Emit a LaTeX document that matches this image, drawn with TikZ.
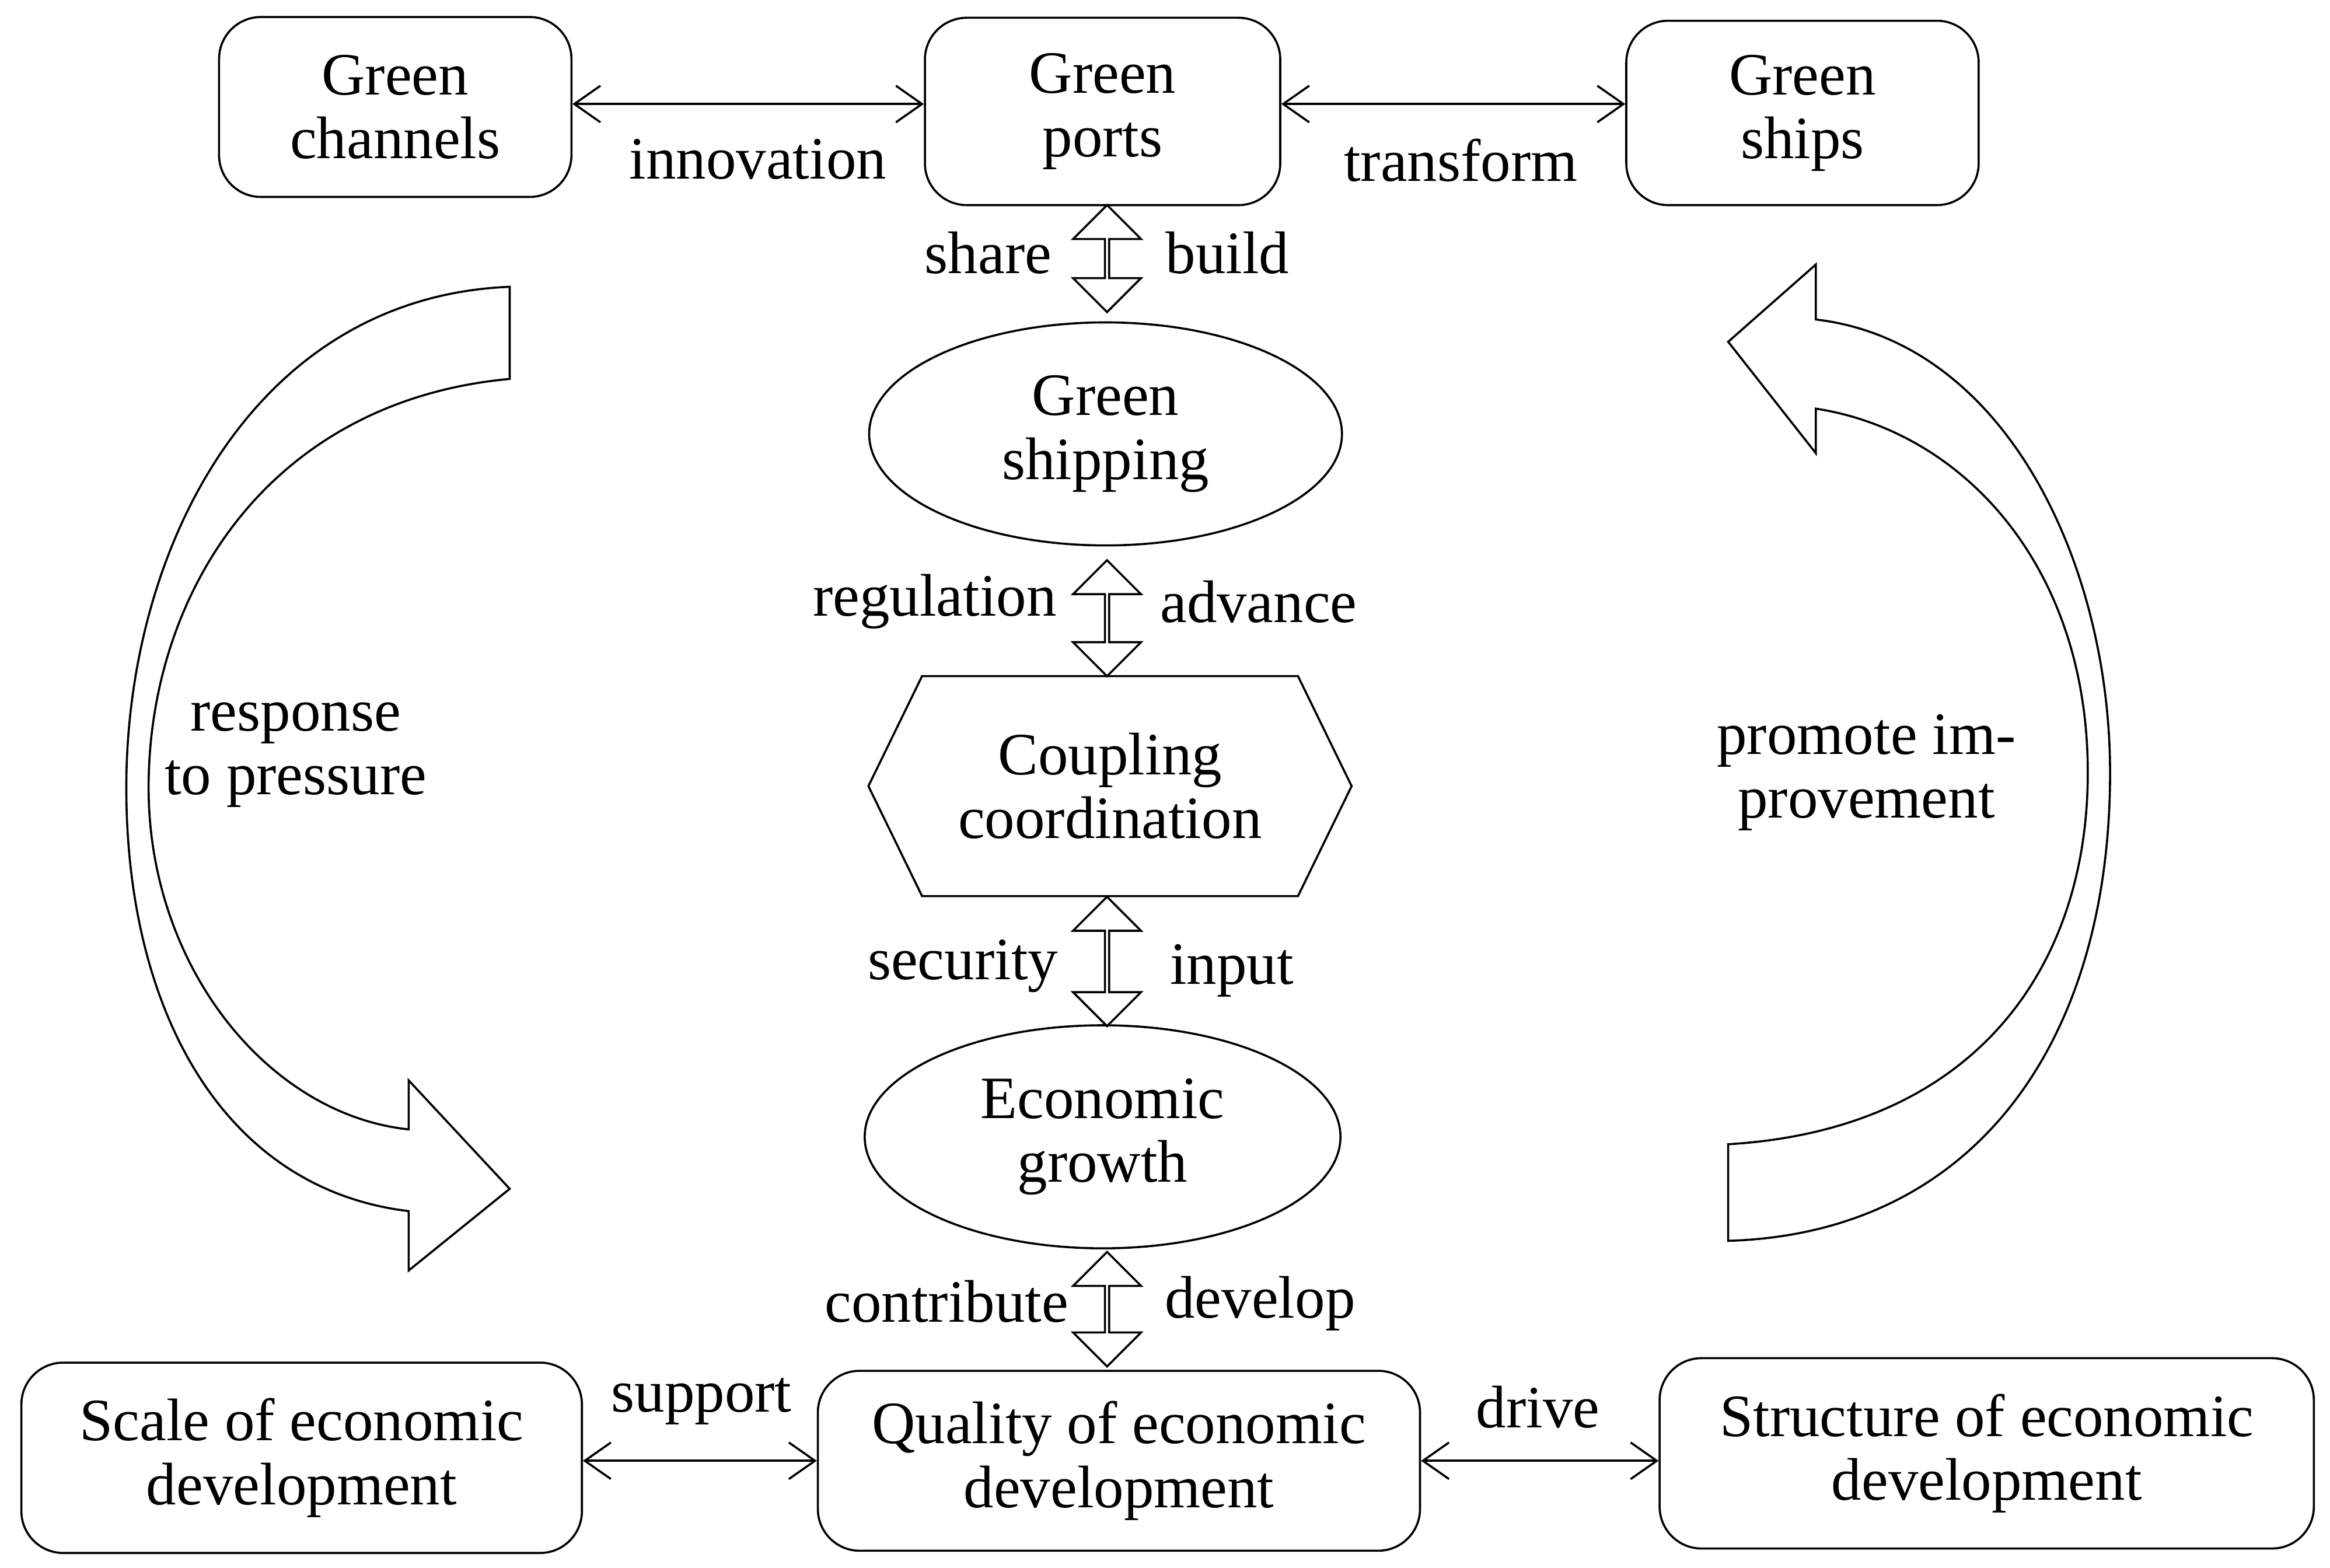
\documentclass[tikz,border=0pt]{standalone}
\usepackage{fontspec}
\setmainfont{Liberation Serif}
\usetikzlibrary{positioning,shapes.geometric,shapes.symbols,shapes.arrows,arrows.meta}
\begin{document}
\begin{tikzpicture}[x=0.01cm,y=-0.01cm,
	font=\fontsize{11.5}{12.2}\selectfont,
	box/.style={draw,rounded corners=8pt,align=center,inner sep=0pt},
	oval/.style={draw,ellipse,align=center,inner sep=0pt},
	link/.style={{Straight Barb[length=5pt,width=7pt]}-{Straight Barb[length=5pt,width=7pt]},thin},
	dbl/.style={draw,double arrow,rotate=90,minimum width=13pt,double arrow head extend=3pt,inner sep=0pt,thin},
	lab/.style={inner sep=0pt,align=center}
	]
	\useasboundingbox (0,0) rectangle (1568,1055);

	\node[box,minimum width=237\pgflinewidth*0+6.72cm*0+2.37cm,minimum height=1.21cm] (channels) at (266,72) {Green\\channels};
	\node[box,minimum width=2.39cm,minimum height=1.26cm] (ports) at (742,75) {Green\\ports};
	\node[box,minimum width=2.37cm,minimum height=1.24cm] (ships) at (1213,76) {Green\\ships};
	\node[oval,minimum width=3.18cm,minimum height=1.5cm] (shipping) at (744,292) {Green\\shipping};
	\node[draw,signal,signal to=west and east,signal pointer angle=128,minimum width=3.25cm,minimum height=1.48cm,align=center,inner sep=0pt] (coupling) at (747,529) {Coupling\\coordination};
	\node[oval,minimum width=3.2cm,minimum height=1.5cm] (growth) at (742,765) {Economic\\growth};
	\node[box,minimum width=4.05cm,minimum height=1.21cm] (quality) at (753,983) {Quality of economic\\development};
	\node[box,minimum width=3.77cm,minimum height=1.28cm] (scale) at (203,981) {Scale of economic\\development};
	\node[box,minimum width=4.4cm,minimum height=1.28cm] (structure) at (1337,978) {Structure of economic\\development};

	% horizontal links
	\draw[link] (channels.east |- 0,70) -- (ports.west |- 0,70);
	\draw[link] (ports.east |- 0,70) -- (ships.west |- 0,70);
	\draw[link] (scale.east |- 0,983) -- (quality.west |- 0,983);
	\draw[link] (quality.east |- 0,983) -- (structure.west |- 0,983);
	\node[lab] (l1) at (510,107) {innovation};
	\node[lab] (l2) at (983,108) {transform};
	\node[lab] (l3) at (472,943) {support};
	\node[lab] (l4) at (1035,947) {drive};

	% vertical double arrows
	\node[dbl,minimum height=0.72cm] (a1) at (745,174) {};
	\node[dbl,minimum height=0.78cm] (a2) at (745,416) {};
	\node[dbl,minimum height=0.87cm] (a3) at (745,647) {};
	\node[dbl,minimum height=0.77cm] (a4) at (745,881) {};
	\node[lab] at (665,170) {share};
	\node[lab] at (826,170) {build};
	\node[lab] at (629,405) {regulation};
	\node[lab] at (847,405) {advance};
	\node[lab] at (648,650) {security};
	\node[lab] at (829,653) {input};
	\node[lab] at (637,876) {contribute};
	\node[lab] at (848,877) {develop};

	% big curved arrows
	\draw[thin] (343,193) -- (343,255) .. controls (180,270) and (100,400) .. (100,530)
		.. controls (100,650) and (180,750) .. (275,760) -- (275,727) -- (343,800) -- (275,855) -- (275,815)
		.. controls (150,800) and (85,680) .. (85,530) .. controls (85,370) and (170,200) .. (343,193) -- cycle;
	\draw[thin] (1163,835) -- (1163,770) .. controls (1330,760) and (1405,650) .. (1405,520)
		.. controls (1405,380) and (1320,290) .. (1222,275) -- (1222,305) -- (1163,230) -- (1222,178) -- (1222,215)
		.. controls (1350,230) and (1420,380) .. (1420,520) .. controls (1420,700) and (1330,830) .. (1163,835) -- cycle;
	\node[lab] at (199,508) {response\\to pressure};
	\node[lab] at (1256,520) {promote im-\\provement};
\end{tikzpicture}
\end{document}
